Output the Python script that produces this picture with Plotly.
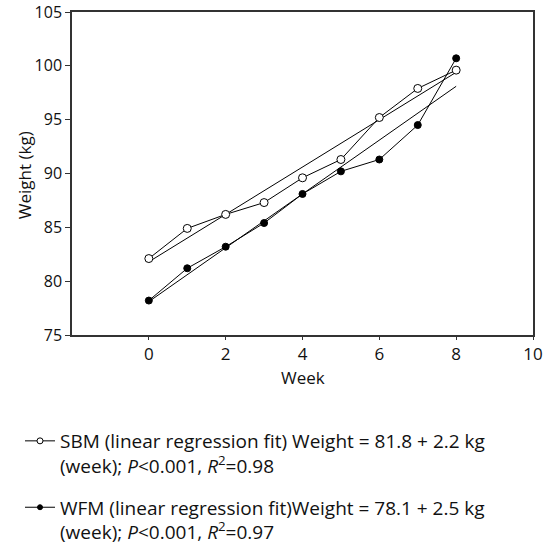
import plotly.graph_objects as go

weeks = [0, 1, 2, 3, 4, 5, 6, 7, 8]
sbm_weight = [82.1, 84.9, 86.2, 87.3, 89.6, 91.3, 95.2, 97.9, 99.6]
wfm_weight = [78.2, 81.2, 83.2, 85.4, 88.1, 90.2, 91.3, 94.5, 100.7]
sbm_intercept, sbm_slope = 81.8, 2.2
wfm_intercept, wfm_slope = 78.1, 2.5
fit_weeks = [0, 8]
x_ticks = [0, 2, 4, 6, 8, 10]
y_ticks = [75, 80, 85, 90, 95, 100, 105]

sbm_label = "SBM (linear regression fit) Weight = 81.8 + 2.2 kg<br>(week); <i>P</i><0.001, <i>R</i><sup>2</sup>=0.98"
wfm_label = "WFM (linear regression fit)Weight = 78.1 + 2.5 kg<br>(week); <i>P</i><0.001, <i>R</i><sup>2</sup>=0.97"

FONT = "Open Sans"
W, H = 555, 559
fig = go.Figure()

fig.add_trace(go.Scatter(
    x=fit_weeks, y=[sbm_intercept + sbm_slope * w for w in fit_weeks],
    mode="lines", line=dict(color="black", width=1), showlegend=False, hoverinfo="skip"))
fig.add_trace(go.Scatter(
    x=fit_weeks, y=[wfm_intercept + wfm_slope * w for w in fit_weeks],
    mode="lines", line=dict(color="black", width=1), showlegend=False, hoverinfo="skip"))

fig.add_trace(go.Scatter(
    x=weeks, y=sbm_weight, mode="lines+markers", showlegend=False,
    line=dict(color="black", width=1),
    marker=dict(symbol="circle", size=8, color="white", line=dict(color="black", width=1))))
fig.add_trace(go.Scatter(
    x=weeks, y=wfm_weight, mode="lines+markers", showlegend=False,
    line=dict(color="black", width=1),
    marker=dict(symbol="circle", size=7, color="black", line=dict(color="black", width=1))))

# legend-only entries (small symbols as in the reference)
fig.add_trace(go.Scatter(
    x=[None], y=[None], mode="lines+markers", name=sbm_label, legendgroup="a",
    line=dict(color="black", width=1),
    marker=dict(symbol="circle", size=6, color="white", line=dict(color="black", width=1))))
fig.add_trace(go.Scatter(
    x=[None], y=[None], mode="lines+markers", name=wfm_label, legendgroup="b",
    line=dict(color="black", width=1),
    marker=dict(symbol="circle", size=5, color="black", line=dict(color="black", width=1))))

fig.update_layout(
    width=W, height=H,
    margin=dict(l=72, r=22, t=12, b=224, autoexpand=False),
    paper_bgcolor="white", plot_bgcolor="white",
    font=dict(family=FONT, size=17, color="#111"),
    legend=dict(
        xref="container", yref="container", x=20 / W, y=1 - 422 / H,
        xanchor="left", yanchor="top", valign="top",
        font=dict(family=FONT, size=19, color="#111"),
        tracegroupgap=14, bgcolor="rgba(0,0,0,0)",
    ),
    xaxis=dict(
        range=[-2, 10], tickvals=x_ticks, ticktext=[str(v) for v in x_ticks],
        showline=True, linecolor="#333", linewidth=1.5, mirror=True,
        ticks="outside", ticklen=3, tickcolor="#333",
        showgrid=False, zeroline=False,
        tickfont=dict(family=FONT, size=17),
    ),
    yaxis=dict(
        range=[75, 105], tickvals=y_ticks,
        showline=True, linecolor="#333", linewidth=1.5, mirror=True,
        ticks="outside", ticklen=5, tickcolor="#333",
        showgrid=False, zeroline=False,
        tickfont=dict(family=FONT, size=16),
    ),
    annotations=[
        dict(text="Weight (kg)", textangle=-90, xref="paper", yref="paper",
             x=-0.104, y=0.495, xanchor="center", yanchor="middle", showarrow=False,
             font=dict(family=FONT, size=17, color="#111")),
        dict(text="Week", xref="paper", yref="paper",
             x=0.5, y=-0.133, xanchor="center", yanchor="middle", showarrow=False,
             font=dict(family=FONT, size=17, color="#111")),
    ],
)

fig.write_html("out.html", config={"displayModeBar": False},
               post_script="document.body.style.margin='0';")
